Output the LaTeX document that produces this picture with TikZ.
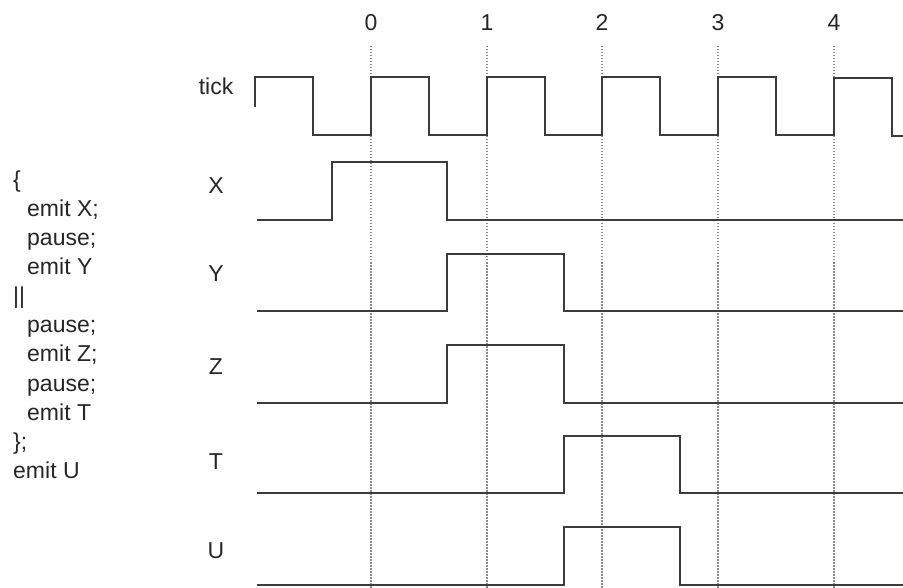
\documentclass[tikz,border=0pt]{standalone}
\usepackage{fontspec}
\setmainfont{Liberation Sans}
\definecolor{wave}{HTML}{3C3C3C}
\definecolor{txt}{HTML}{262626}
\definecolor{grid}{HTML}{8A8A8A}
\begin{document}
\begin{tikzpicture}[x=1pt,y=-1pt,
  wavestyle/.style={draw=wave,line width=1.6pt,line join=miter},
  gridline/.style={draw=grid,line width=1.2pt,dash pattern=on 1.5pt off 1.5pt},
  lab/.style={text=txt,font=\fontsize{23}{27}\selectfont,inner sep=0pt},
  code/.style={lab,anchor=base west}]
\useasboundingbox (0,0) rectangle (903,588);
% grid lines and numbers
\foreach \i/\x in {0/371,1/487,2/602,3/718,4/834}{
  \node[lab,anchor=base] (n\i) at (\x,30.5) {\i};
  \coordinate (gt\i) at (\x,46);
  \coordinate (gb\i) at (\x,588);
  \draw[gridline] (gt\i) -- (gb\i);
}
% labels
\node[lab] (ltick) at (216,86.5) {tick};
\node[lab] (lX) at (216,185.5) {X};
\node[lab] (lY) at (216,274) {Y};
\node[lab] (lZ) at (216,366.5) {Z};
\node[lab] (lT) at (216,461.5) {T};
\node[lab] (lU) at (216,551) {U};
% program text
\node[code] (p0) at (13,188) {\{};
\node[code] (p1) at (27,217) {emit X;};
\node[code] (p2) at (27,246) {pause;};
\node[code] (p3) at (27,275) {emit Y};
\node[code] (p4) at (13,304) {||};
\node[code] (p5) at (27,333) {pause;};
\node[code] (p6) at (27,362) {emit Z;};
\node[code] (p7) at (27,391) {pause;};
\node[code] (p8) at (27,420) {emit T};
\node[code] (p9) at (13,449) {\};};
\node[code] (p10) at (13,478) {emit U};
% tick waveform
\draw[wavestyle] (255,107) -- (255,77) -- (313,77) -- (313,135) -- (371,135)
  -- (371,77) -- (429,77) -- (429,135) -- (487,135)
  -- (487,77) -- (545,77) -- (545,135) -- (602,135)
  -- (602,77) -- (660,77) -- (660,135) -- (718,135)
  -- (718,77) -- (776,77) -- (776,135) -- (834,135)
  -- (834,78) -- (892,78) -- (892,136) -- (903,136);
% X
\draw[wavestyle] (257,220) -- (332,220) -- (332,162) -- (447,162) -- (447,220) -- (903,220);
% Y
\draw[wavestyle] (257,311) -- (447,311) -- (447,254) -- (564,254) -- (564,311) -- (903,311);
% Z
\draw[wavestyle] (257,403) -- (447,403) -- (447,345) -- (564,345) -- (564,403) -- (903,403);
% T
\draw[wavestyle] (257,493) -- (564,493) -- (564,436) -- (680,436) -- (680,493) -- (903,493);
% U
\draw[wavestyle] (257,585) -- (564,585) -- (564,527) -- (680,527) -- (680,585) -- (903,585);
\end{tikzpicture}
\end{document}
